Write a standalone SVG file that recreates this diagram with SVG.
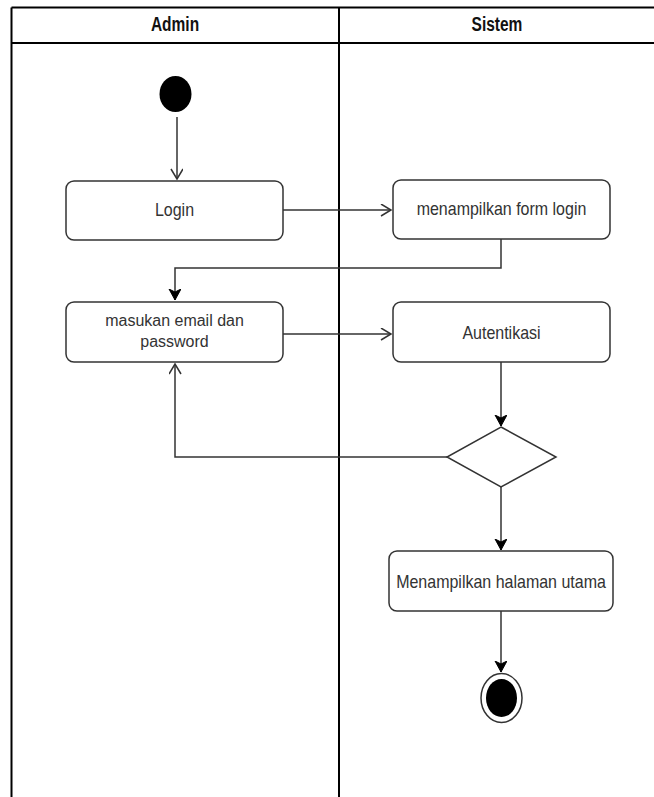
<svg xmlns="http://www.w3.org/2000/svg" width="654" height="797" viewBox="0 0 654 797">
  <style>
    .lane { fill: none; stroke: #000; stroke-width: 2; }
    .act { fill: #fff; stroke: #333; stroke-width: 1.5; }
    .lbl { font-family: "Liberation Sans", Arial, sans-serif; font-size: 16px; fill: #333; text-anchor: middle; }
    .hdr { font-family: "Liberation Sans", Arial, sans-serif; font-size: 15.5px; font-weight: bold; fill: #111; text-anchor: middle; }
    .edge { fill: none; stroke: #333; stroke-width: 1.5; }
  </style>
  <defs>
    <marker id="open" markerWidth="14" markerHeight="14" refX="11" refY="6" orient="auto" markerUnits="userSpaceOnUse">
      <path d="M1,0 L11,6 L1,12" fill="none" stroke="#333" stroke-width="1.5"/>
    </marker>
    <marker id="block" markerWidth="14" markerHeight="14" refX="11" refY="6" orient="auto" markerUnits="userSpaceOnUse">
      <path d="M0,0 L11,6 L0,12 L3,6 Z" fill="#000" stroke="#000" stroke-width="1"/>
    </marker>
  </defs>

  <!-- swimlane pool -->
  <g id="pool">
    <line class="lane" x1="11.5" y1="7.5" x2="654" y2="7.5"/>
    <line class="lane" x1="11.5" y1="43" x2="654" y2="43"/>
    <line class="lane" x1="11.5" y1="7.5" x2="11.5" y2="797"/>
    <line class="lane" x1="339" y1="7.5" x2="339" y2="797"/>
    <text class="hdr" transform="translate(175,31) scale(1,1.25)">Admin</text>
    <text class="hdr" transform="translate(497,31) scale(1,1.25)">Sistem</text>
  </g>

  <!-- connectors -->
  <g id="connectors">
    <path class="edge" d="M177,117 L177,179" marker-end="url(#open)"/>
    <path class="edge" d="M283,210 L391,210" marker-end="url(#open)"/>
    <path class="edge" d="M501,239 L501,268 L175,268 L175,300" marker-end="url(#block)"/>
    <path class="edge" d="M283,334 L391,334" marker-end="url(#open)"/>
    <path class="edge" d="M501,362 L501,426" marker-end="url(#block)"/>
    <path class="edge" d="M447,457 L175,457 L175,364" marker-end="url(#open)"/>
    <path class="edge" d="M501,487 L501,550" marker-end="url(#block)"/>
    <path class="edge" d="M501,611 L501,672" marker-end="url(#block)"/>
  </g>

  <g id="start">
    <ellipse cx="175.5" cy="94" rx="16" ry="18" fill="#000"/>
  </g>

  <g id="login">
    <rect class="act" x="66" y="181" width="217" height="59" rx="8"/>
    <text class="lbl" transform="translate(174.5,216) scale(1,1.2)">Login</text>
  </g>

  <g id="form-login">
    <rect class="act" x="393" y="180" width="217" height="59" rx="8"/>
    <text class="lbl" transform="translate(501.5,215) scale(1,1.2)">menampilkan form login</text>
  </g>

  <g id="input-credentials">
    <rect class="act" x="66" y="302" width="217" height="60" rx="8"/>
    <text class="lbl" transform="translate(174.5,326) scale(1,1.08)">masukan email dan</text>
    <text class="lbl" transform="translate(174.5,347) scale(1,1.08)">password</text>
  </g>

  <g id="authentication">
    <rect class="act" x="393" y="302" width="217" height="60" rx="8"/>
    <text class="lbl" transform="translate(501.5,339) scale(1,1.2)">Autentikasi</text>
  </g>

  <g id="decision">
    <polygon class="act" points="501,427 556,457 501,487 447,457"/>
  </g>

  <g id="main-page">
    <rect class="act" x="389" y="551" width="224" height="60" rx="8"/>
    <text class="lbl" transform="translate(501,588) scale(1,1.2)">Menampilkan halaman utama</text>
  </g>

  <g id="end">
    <ellipse cx="501.5" cy="698" rx="20.5" ry="24.5" fill="#fff" stroke="#333" stroke-width="1.5"/>
    <ellipse cx="501.5" cy="698" rx="15.5" ry="19" fill="#000"/>
  </g>
</svg>
